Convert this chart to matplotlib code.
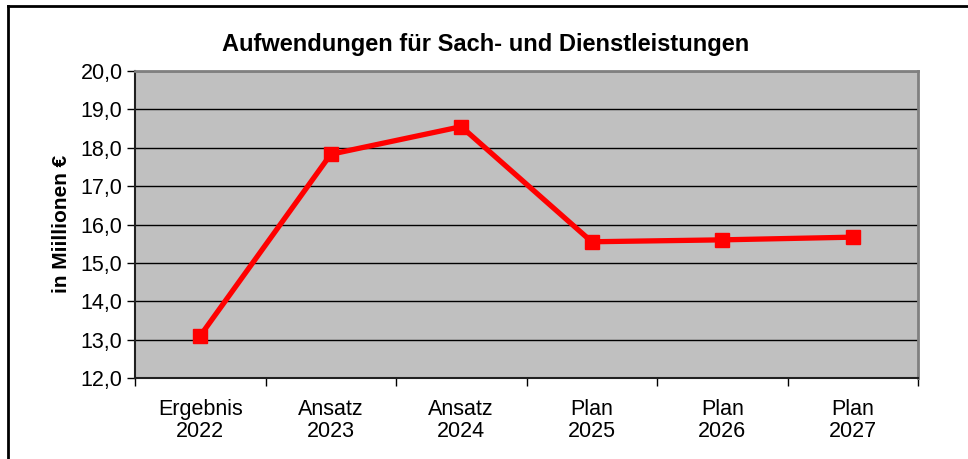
import matplotlib
matplotlib.use("Agg")
import matplotlib.pyplot as plt
from matplotlib.lines import Line2D
from matplotlib.ticker import FixedLocator, FuncFormatter

categories = ["Ergebnis\n2022", "Ansatz\n2023", "Ansatz\n2024", "Plan\n2025", "Plan\n2026", "Plan\n2027"]
values = [13.1, 17.83, 18.55, 15.55, 15.6, 15.67]
yticks = [12, 13, 14, 15, 16, 17, 18, 19, 20]
title = "Aufwendungen für Sach- und Dienstleistungen"
ylabel = "in Miillionen €"

plt.rcParams['font.family'] = ['Liberation Sans', 'DejaVu Sans']

fig = plt.figure(figsize=(9.68, 4.59), dpi=100)
ax = fig.add_axes([135/968, 81/459, (918-135)/968, (378-71)/459])
ax.set_facecolor("#C0C0C0")

x = list(range(len(categories)))
ax.plot(x, values, color="#FF0000", lw=3.8, marker="s", ms=10.5, zorder=3, clip_on=False)

ax.set_xlim(-0.5, len(categories) - 0.5)
ax.set_ylim(12, 20)
ax.set_yticks(yticks)
ax.yaxis.set_major_formatter(FuncFormatter(lambda v, p: f"{v:.1f}".replace(".", ",")))
ax.grid(axis="y", color="#000000", lw=1.0)
ax.set_axisbelow(True)

ax.set_xticks(x)
ax.set_xticklabels(categories, fontsize=15.5, linespacing=1.1)
ax.tick_params(axis="x", which="major", length=0, pad=15)
ax.xaxis.set_minor_locator(FixedLocator([i - 0.5 for i in range(len(categories) + 1)]))
ax.tick_params(axis="x", which="minor", length=6, width=1, color="#000000")
ax.tick_params(axis="y", length=6, width=1, labelsize=15.5, pad=3)

for s in ["left", "bottom"]:
    ax.spines[s].set_color("#202020")
    ax.spines[s].set_linewidth(1.5)
for s in ["top", "right"]:
    ax.spines[s].set_color("#808080")
    ax.spines[s].set_linewidth(2)

fig.text(486/968, 1 - 45/459, title, ha="center", va="center", fontsize=17, fontweight="bold")
fig.text(62/968, 1 - 224/459, ylabel, ha="center", va="center", rotation=90, fontsize=15, fontweight="bold")

fig.add_artist(Line2D([8/968, 8/968], [0, 1 - 6/459], transform=fig.transFigure, color="black", lw=2))
fig.add_artist(Line2D([8/968, 1], [1 - 6/459, 1 - 6/459], transform=fig.transFigure, color="black", lw=2))

fig.savefig("out.png", dpi=100)
